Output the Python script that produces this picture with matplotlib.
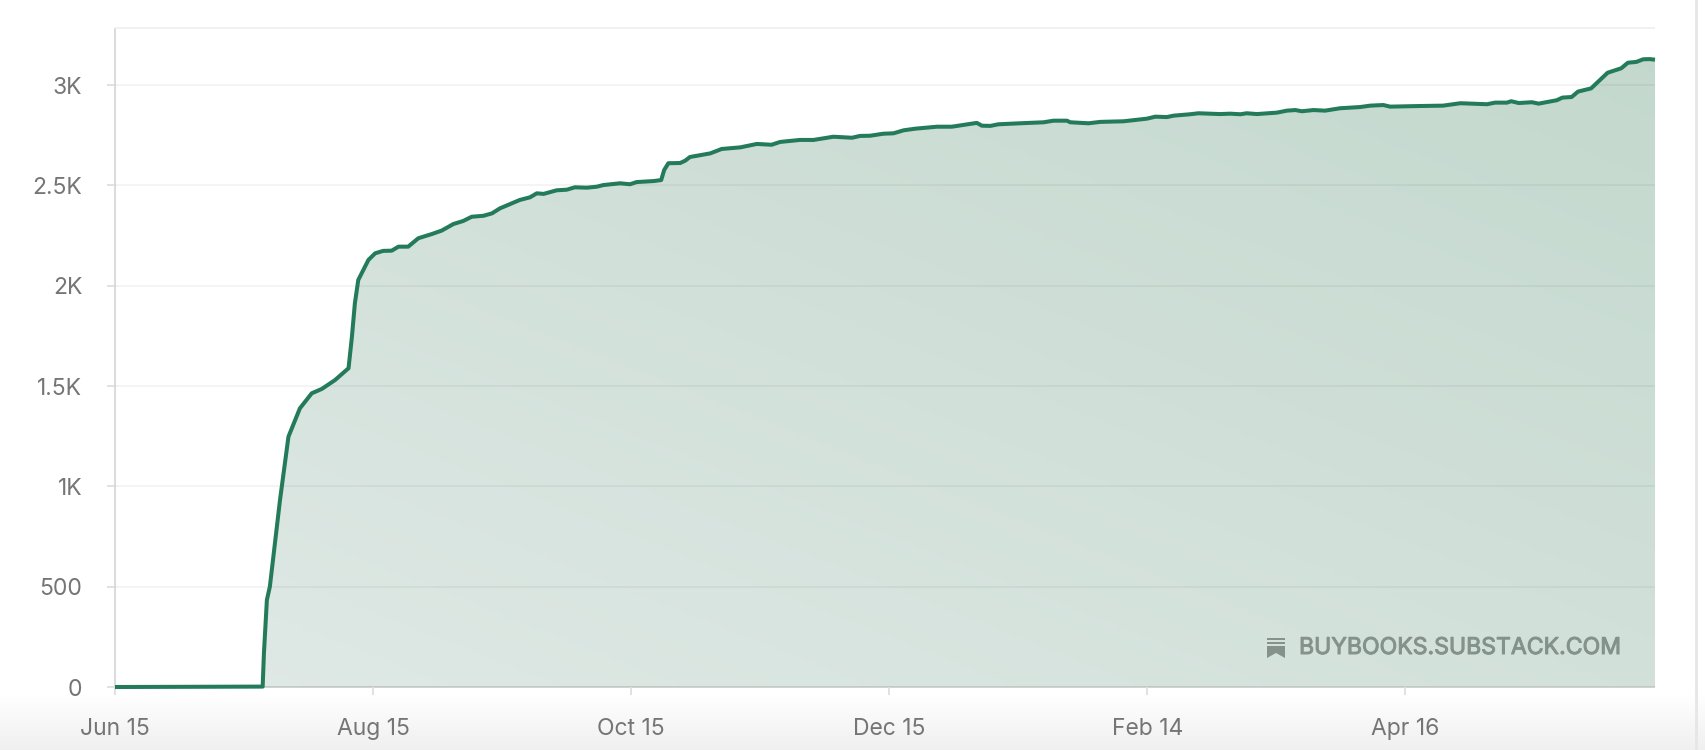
import numpy as np
import matplotlib
matplotlib.use('Agg')
import matplotlib.pyplot as plt
import matplotlib.patheffects as pe
from matplotlib.colors import to_rgb
from matplotlib.patches import Polygon

# days since Jun 15, subscribers
days = [0, 34.9, 35.2, 35.9, 36.6, 37.8, 39.0, 41.0, 43.7, 46.5, 48.9, 52.0, 55.2, 56.0, 56.7, 57.5,
        59.9, 61.5, 63.4, 65.4, 67.0, 69.3, 71.7, 74.9, 77.2, 80.0, 82.3, 84.3, 87.1, 89.1, 91.0,
        95.7, 98.1, 99.7, 101.3, 104.4, 106.8, 108.7, 111.5, 113.9, 115.4, 119.4, 121.7, 123.3,
        127.3, 129.1, 129.8, 130.8, 133.6, 134.8, 135.9, 140.7, 143.4, 147.8, 151.7, 155.2, 157.2,
        161.9, 165.1, 169.8, 174.2, 176.1, 178.5, 181.6, 184.0, 186.4, 189.1, 194.3, 197.8, 203.7,
        204.9, 206.9, 208.8, 213.9, 219.5, 221.8, 225.0, 225.8, 230.1, 232.9, 238.4, 243.9, 245.9,
        248.6, 250.2, 254.1, 256.1, 261.2, 263.6, 266.0, 267.5, 269.9, 274.6, 277.0, 279.0, 280.5,
        283.3, 286.0, 289.6, 294.3, 296.7, 299.8, 301.4, 308.1, 313.9, 318.0, 324.3, 326.2, 329.0,
        330.0, 331.8, 334.9, 336.5, 340.8, 342.1, 344.3, 345.8, 348.9, 352.8, 356.0, 357.6, 359.6,
        361.2, 362.7, 364]
subs = [0, 2, 168, 434, 500, 716, 932, 1248, 1389, 1464, 1486, 1530, 1589, 1746, 1913, 2029,
        2129, 2162, 2174, 2175, 2195, 2195, 2237, 2258, 2275, 2308, 2323, 2344, 2349, 2361, 2386,
        2428, 2441, 2461, 2458, 2476, 2479, 2491, 2489, 2494, 2502, 2511, 2506, 2517,
        2522, 2527, 2577, 2611, 2612, 2624, 2642, 2660, 2682, 2690, 2707, 2703, 2717,
        2727, 2727, 2743, 2738, 2747, 2748, 2758, 2760, 2775, 2783, 2793, 2793, 2812,
        2798, 2797, 2805, 2810, 2815, 2823, 2823, 2815, 2810, 2817, 2820, 2833, 2843,
        2841, 2848, 2855, 2860, 2856, 2858, 2855, 2860, 2856, 2863, 2873, 2876, 2870,
        2876, 2873, 2885, 2891, 2898, 2901, 2893, 2896, 2898, 2910, 2905, 2913, 2913,
        2920, 2911, 2915, 2908, 2925, 2938, 2941, 2968, 2984, 3062, 3084, 3112, 3116,
        3129, 3130, 3127]

x_ticks = [0, 61, 122, 183, 244, 305]
x_labels = ['Jun 15', 'Aug 15', 'Oct 15', 'Dec 15', 'Feb 14', 'Apr 16']
y_ticks = [0, 500, 1000, 1500, 2000, 2500, 3000]
y_labels = ['0', '500', '1K', '1.5K', '2K', '2.5K', '3K']

W, H = 1706, 750
plt.rcParams['font.family'] = ['Inter', 'DejaVu Sans']
fig = plt.figure(figsize=(W / 100, H / 100), dpi=100, facecolor='white')

# grey fade at the bottom of the screenshot, starts about 55px above the edge
bg = fig.add_axes([0, 0, 1, 1], zorder=0)
fade = np.clip(np.linspace(H, 0, H) / 55, 0, 1)
shade = 0.94 + 0.06 * fade
bg.imshow(np.dstack([shade, shade, shade]).reshape(H, 1, 3), aspect='auto', extent=[0, W, H, 0])
bg.axvline(1696, color='#e6e6e6', lw=2)
bg.set_xlim(0, W)
bg.set_ylim(H, 0)
bg.axis('off')

ax = fig.add_axes([115 / W, 1 - 687 / H, 1540 / W, 659 / H], zorder=1)
ax.patch.set_alpha(0)
x_max, y_max = 364, 3285

# diagonal gradient under the line
c0 = np.array(to_rgb('#e0e9e6'))
c1 = np.array(to_rgb('#c3d8cd'))
gx, gy = np.meshgrid(np.linspace(0, 1, 300), np.linspace(0, 1, 200))
t = (0.48 * gx + 0.52 * gy)[..., None]
poly = ax.fill_between(days, subs, 0, color='none', lw=0)
img = ax.imshow(c0 + (c1 - c0) * t, origin='lower', extent=[0, x_max, 0, y_max], aspect='auto', zorder=1)
img.set_clip_path(poly.get_paths()[0], transform=ax.transData)

ax.plot(days, subs, color='#237b5a', lw=2.9, zorder=5, clip_on=False,
        solid_joinstyle='round', solid_capstyle='butt')

ax.set_xlim(0, x_max)
ax.set_ylim(0, y_max)
ax.set_xticks(x_ticks, x_labels)
ax.set_yticks(y_ticks, y_labels)
ax.tick_params(axis='both', length=5.5, width=1.3, color='#dedede', labelcolor='#757575', labelsize=16.5)
ax.tick_params(axis='x', pad=17)
ax.tick_params(axis='y', pad=18)
ax.set_axisbelow(False)
ax.grid(axis='y', color='black', alpha=0.045, lw=1.4, zorder=3)

ax.spines['right'].set_visible(False)
ax.spines['top'].set_color('#f1f1f1')
ax.spines['top'].set_linewidth(1.4)
ax.spines['left'].set_color('#dcdcdc')
ax.spines['left'].set_linewidth(1.5)
ax.spines['bottom'].set_color('#cdd3d1')
ax.spines['bottom'].set_linewidth(1.4)
for s in ax.spines.values():
    s.set_capstyle('butt')

# watermark, text and bookmark icon
icon_col = '#84918c'
fig.text(1299 / W, 1 - 648 / H, 'BUYBOOKS.SUBSTACK.COM', color=icon_col, fontsize=16.6,
         ha='left', va='center', zorder=6,
         path_effects=[pe.withStroke(linewidth=0.7, foreground=icon_col)])
icon_ax = fig.add_axes([0, 0, 1, 1], zorder=6)
icon_ax.set_xlim(0, W)
icon_ax.set_ylim(H, 0)
icon_ax.axis('off')
icon_ax.add_patch(Polygon([(1267, 638), (1285, 638), (1285, 640), (1267, 640)], color=icon_col, lw=0))
icon_ax.add_patch(Polygon([(1267, 642), (1285, 642), (1285, 644), (1267, 644)], color=icon_col, lw=0))
icon_ax.add_patch(Polygon([(1267, 646), (1285, 646), (1285, 658), (1276, 653), (1267, 658)], color=icon_col, lw=0))

fig.savefig('out.png', dpi=100)
